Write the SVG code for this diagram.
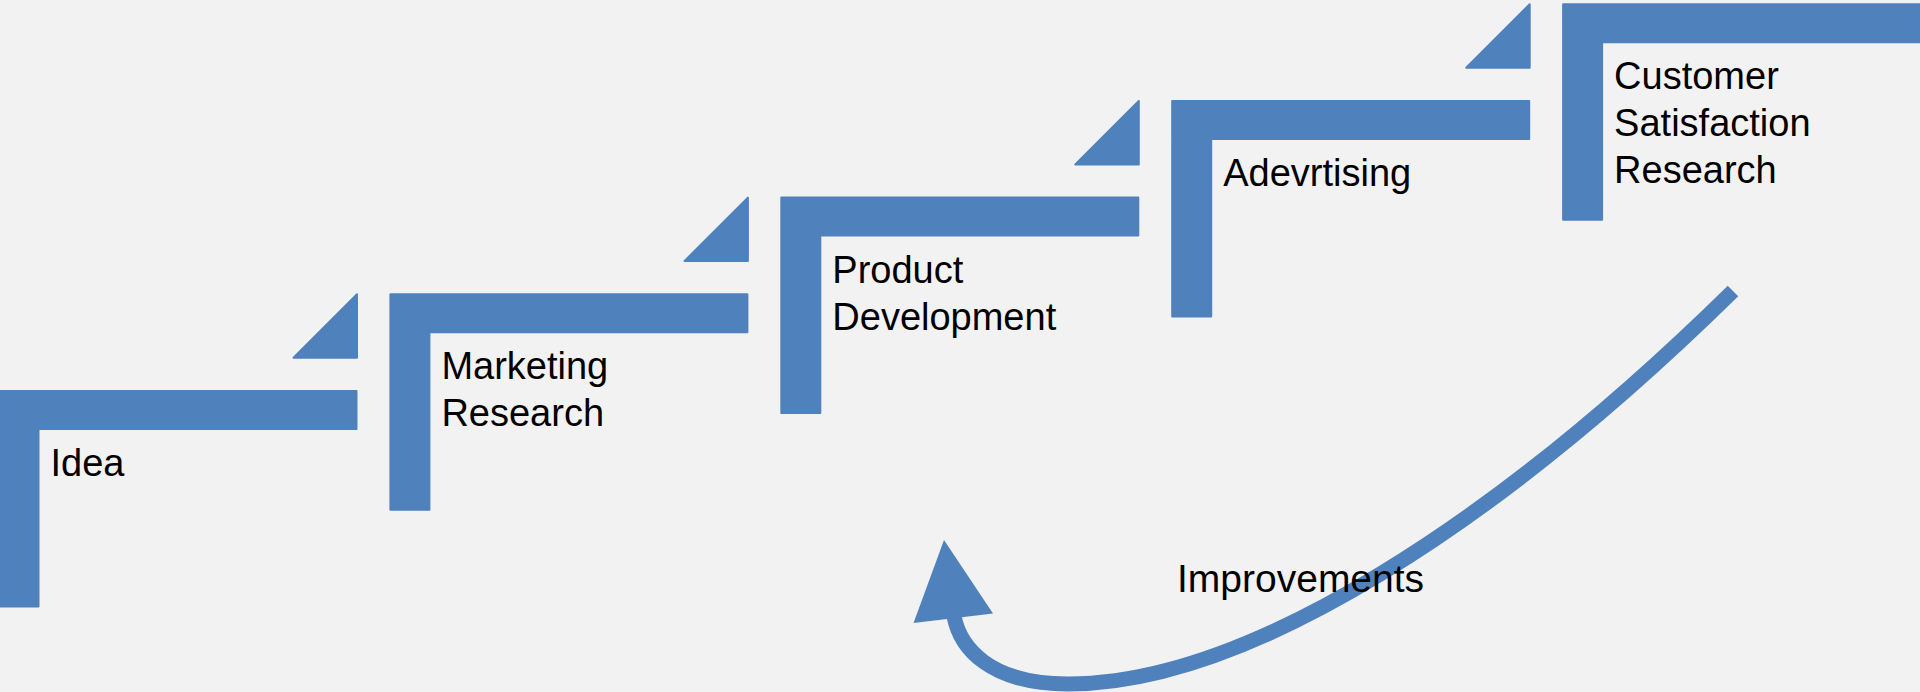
<svg xmlns="http://www.w3.org/2000/svg" xmlns:xlink="http://www.w3.org/1999/xlink" width="1920" height="692" viewBox="0 0 1920 692">
<style>
.shape{fill:#4F81BD;stroke:#4F81BD;stroke-width:2;stroke-linejoin:round}
.lbl{font-family:"Liberation Sans",Arial,sans-serif;font-size:38px;fill:#000}
.conn{fill:none;stroke:#4F81BD;stroke-width:15;stroke-linecap:butt}
</style>
<defs>
<path id="bracket" d="M1,1 H358 V39 H40 V216.5 H1 Z"/>
<path id="tri" d="M1,64.5 L64.5,1 V64.5 Z"/>
</defs>
<rect x="0" y="0" width="1920" height="692" fill="#F2F2F2"/>
<g id="node-idea" transform="translate(-1.5,390)">
<use xlink:href="#bracket" class="shape"/>
<text class="lbl" x="52" y="86">Idea</text>
</g>
<g id="step-1" transform="translate(292.5,293.3)"><use xlink:href="#tri" class="shape"/></g>
<g id="node-marketing" transform="translate(389.4,293.3)">
<use xlink:href="#bracket" class="shape"/>
<text class="lbl" x="52" y="86">Marketing</text>
<text class="lbl" x="52" y="133">Research</text>
</g>
<g id="step-2" transform="translate(683.4,196.6)"><use xlink:href="#tri" class="shape"/></g>
<g id="node-product" transform="translate(780.3,196.6)">
<use xlink:href="#bracket" class="shape"/>
<text class="lbl" x="52" y="86">Product</text>
<text class="lbl" x="52" y="133">Development</text>
</g>
<g id="step-3" transform="translate(1074.3,99.9)"><use xlink:href="#tri" class="shape"/></g>
<g id="node-advertising" transform="translate(1171.2,99.9)">
<use xlink:href="#bracket" class="shape"/>
<text class="lbl" x="52" y="86">Adevrtising</text>
</g>
<g id="step-4" transform="translate(1465.2,3.2)"><use xlink:href="#tri" class="shape"/></g>
<g id="node-customer" transform="translate(1562.1,3.2)">
<use xlink:href="#bracket" class="shape"/>
<text class="lbl" x="52" y="86">Customer</text>
<text class="lbl" x="52" y="133">Satisfaction</text>
<text class="lbl" x="52" y="180">Research</text>
</g>
<g id="connectors">
<path class="conn" d="M1733,291 C1500,520 1250,684 1068,684 C990,684 960,648 954,616"/>
<polygon points="944,540 913.5,623 993,613.5" fill="#4F81BD"/>
<text class="lbl" x="1177" y="592" style="font-size:39px">Improvements</text>
</g>
</svg>
